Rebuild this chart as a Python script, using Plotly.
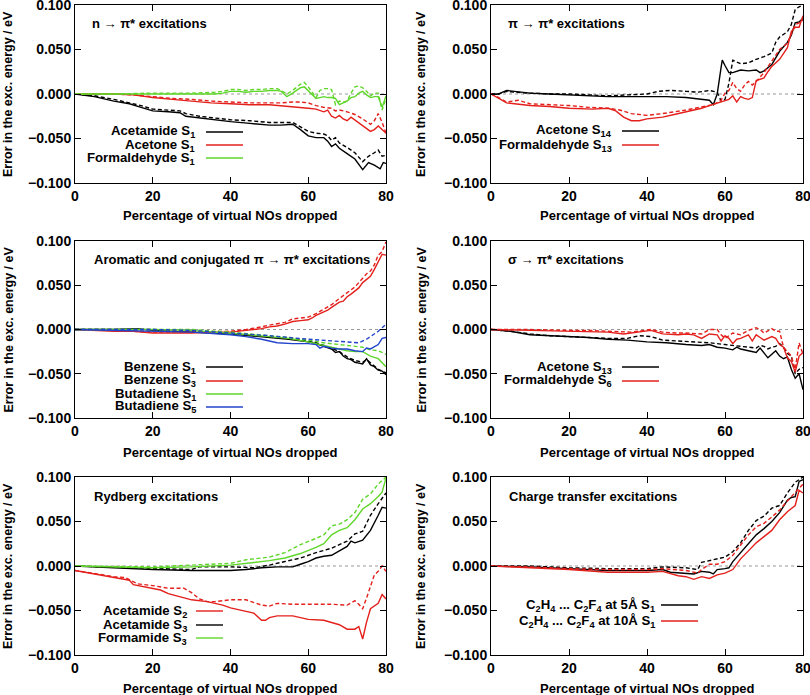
import plotly.graph_objects as go

# ---------------- DATA ----------------
x_ticks = [0, 20, 40, 60, 80]
y_ticks = [0.1, 0.05, 0.0, -0.05, -0.1]
y_tick_labels = ["0.100", "0.050", "0.000", "\u22120.050", "\u22120.100"]

# Panel 1: n -> pi*
p1_acetamide_x = [0, 5, 10, 14, 17, 20, 24, 27, 28.5, 32, 36, 40, 45, 50, 53, 56, 58, 60, 62, 64, 65, 66, 67, 68, 70, 72, 74, 75.5, 77, 78.5, 79.3, 80]
p1_acetamide_y = [0, -0.003, -0.008, -0.011, -0.015, -0.019, -0.020, -0.021, -0.025, -0.027, -0.029, -0.031, -0.033, -0.035, -0.035, -0.034, -0.040, -0.047, -0.049, -0.049, -0.053, -0.059, -0.056, -0.061, -0.067, -0.073, -0.085, -0.077, -0.080, -0.084, -0.077, -0.078]
p1_acetamide_dx = [0, 5, 10, 14, 17, 20, 24, 27, 28.5, 32, 36, 40, 45, 50, 53, 56, 58, 60, 62, 64, 65, 66, 67, 68, 70, 72, 74, 75.5, 77, 78, 79, 80]
p1_acetamide_dy = [0, -0.002, -0.006, -0.010, -0.013, -0.017, -0.018, -0.019, -0.022, -0.025, -0.027, -0.029, -0.030, -0.032, -0.032, -0.032, -0.037, -0.042, -0.044, -0.045, -0.047, -0.052, -0.049, -0.055, -0.060, -0.066, -0.076, -0.070, -0.066, -0.063, -0.070, -0.069]
p1_acetone_x = [0, 10, 15, 20, 25, 30, 35, 40, 45, 50, 53, 56, 58, 60, 62, 64, 65, 66, 67, 68, 69, 70, 71, 72, 73, 74, 75, 76, 77, 78, 79, 80]
p1_acetone_y = [0, 0, -0.001, -0.004, -0.006, -0.008, -0.010, -0.011, -0.012, -0.012, -0.013, -0.014, -0.015, -0.016, -0.017, -0.020, -0.018, -0.025, -0.027, -0.024, -0.028, -0.030, -0.026, -0.029, -0.032, -0.035, -0.038, -0.042, -0.040, -0.036, -0.040, -0.044]
p1_acetone_dx = [0, 10, 15, 20, 25, 30, 35, 40, 45, 50, 53, 56, 58, 60, 62, 64, 66, 67, 68, 70, 72, 74, 75, 76, 77, 78, 79, 80]
p1_acetone_dy = [0, 0, -0.001, -0.003, -0.005, -0.006, -0.008, -0.009, -0.010, -0.010, -0.010, -0.009, -0.009, -0.010, -0.013, -0.015, -0.016, -0.019, -0.018, -0.020, -0.023, -0.028, -0.031, -0.034, -0.030, -0.022, -0.032, -0.044]
p1_formald_x = [0, 10, 20, 30, 36, 38, 40, 42, 44, 46, 48, 50, 52, 53, 54.5, 56, 58, 59, 60, 61, 62, 63, 64, 65, 66, 67, 68, 69, 70, 71, 72, 73, 74, 75, 76, 77, 78, 79, 80]
p1_formald_y = [0, 0, 0, 0, 0, 0.001, 0.003, 0.003, 0.002, 0.003, 0.003, 0.004, 0.004, 0.003, -0.003, 0.001, 0.007, 0.008, 0.004, -0.001, -0.005, -0.004, -0.003, -0.004, -0.004, -0.005, -0.012, -0.010, -0.008, -0.004, -0.003, 0.001, 0.003, -0.001, -0.004, -0.003, -0.003, -0.015, -0.002]
p1_formald_dx = [0, 10, 20, 30, 36, 38, 40, 42, 44, 46, 48, 50, 52, 53, 54.5, 56, 58, 59, 60, 61, 62, 63, 64, 65, 66, 67, 68, 69, 70, 71, 72, 73, 74, 75, 76, 77, 78, 79, 80]
p1_formald_dy = [0, 0, 0.001, 0.001, 0.002, 0.003, 0.005, 0.005, 0.004, 0.005, 0.005, 0.006, 0.006, 0.004, 0.000, 0.004, 0.011, 0.013, 0.008, 0.002, -0.004, 0.004, 0.006, 0.006, 0.005, -0.012, -0.008, -0.009, -0.008, 0.001, 0.008, 0.009, 0.007, 0.003, -0.002, 0.001, 0.001, -0.018, -0.005]

# Panel 2: pi -> pi*
p2_acetone_x = [0, 2, 3, 4, 6, 10, 15, 20, 25, 30, 35, 40, 45, 50, 54, 56, 57, 58, 59, 59.3, 60, 61, 62, 64, 66, 68, 69, 70, 72, 73, 74, 76, 77, 78, 79, 80]
p2_acetone_y = [0, 0, 0.002, 0.004, 0.003, 0.001, 0.000, -0.001, -0.002, -0.003, -0.003, -0.003, -0.003, -0.004, -0.006, -0.007, -0.012, 0.000, 0.030, 0.038, 0.032, 0.024, 0.024, 0.027, 0.026, 0.027, 0.024, 0.026, 0.033, 0.040, 0.048, 0.058, 0.066, 0.080, 0.081, 0.085]
p2_acetone_dx = [0, 2, 4, 6, 10, 15, 20, 25, 30, 35, 40, 43, 46, 50, 53, 56, 58, 59, 60, 61, 62, 64, 66, 68, 70, 72, 73, 74, 76, 77, 78, 79, 80]
p2_acetone_dy = [0, 0, 0.003, 0.002, 0.001, 0.000, 0.000, -0.001, -0.002, -0.001, 0.000, 0.003, 0.004, 0.003, 0.002, 0.004, 0.002, -0.008, -0.006, 0.012, 0.038, 0.034, 0.035, 0.039, 0.042, 0.046, 0.058, 0.064, 0.070, 0.078, 0.095, 0.098, 0.100]
p2_formald_x = [0, 2, 4, 6, 10, 15, 20, 26, 30, 32, 34, 36, 38, 40, 44, 47, 50, 54, 56, 58, 60, 61, 62, 63, 64, 65, 66, 67, 68, 70, 71, 72, 74, 76, 77, 78, 79, 80]
p2_formald_y = [0, -0.005, -0.010, -0.011, -0.013, -0.014, -0.016, -0.017, -0.016, -0.019, -0.026, -0.030, -0.030, -0.028, -0.026, -0.023, -0.020, -0.016, -0.013, -0.010, -0.007, -0.006, -0.002, -0.009, -0.003, -0.005, -0.006, -0.004, 0.015, 0.018, 0.025, 0.031, 0.039, 0.052, 0.070, 0.075, 0.075, 0.088]
p2_formald_dx = [0, 2, 4, 7, 10, 15, 20, 25, 30, 33, 36, 40, 44, 50, 54, 57, 59, 60, 61, 62, 63, 64, 65, 66, 67, 68, 70, 72, 74, 76, 78, 79, 80]
p2_formald_dy = [0, -0.004, -0.009, -0.007, -0.011, -0.012, -0.013, -0.015, -0.016, -0.018, -0.022, -0.024, -0.022, -0.018, -0.015, -0.012, -0.007, 0.001, 0.004, 0.013, 0.006, 0.003, 0.010, 0.014, 0.010, 0.014, 0.024, 0.037, 0.050, 0.057, 0.078, 0.080, 0.083]

# Panel 3: aromatic / conjugated
p3_benz1_x = [0, 10, 16, 20, 30, 40, 45, 50, 55, 60, 62, 64, 66, 67, 68, 69, 70, 71, 72, 73, 74, 75, 76, 77, 78, 79, 80]
p3_benz1_y = [0, 0, 0.001, -0.001, -0.003, -0.005, -0.007, -0.009, -0.011, -0.014, -0.016, -0.019, -0.022, -0.026, -0.025, -0.030, -0.033, -0.034, -0.037, -0.038, -0.039, -0.033, -0.040, -0.042, -0.046, -0.047, -0.051]
p3_benz1_dx = [0, 10, 20, 30, 40, 45, 50, 55, 60, 62, 64, 66, 68, 70, 72, 74, 75, 76, 78, 80]
p3_benz1_dy = [0, 0, 0, -0.002, -0.004, -0.006, -0.008, -0.010, -0.013, -0.015, -0.018, -0.021, -0.025, -0.031, -0.035, -0.037, -0.034, -0.038, -0.045, -0.049]
p3_benz3_x = [0, 10, 15, 20, 25, 30, 35, 40, 44, 48, 50, 52, 54, 56, 58, 60, 61, 62, 64, 65, 66, 68, 69, 70, 71, 72, 73, 74, 75, 76, 77, 78, 79, 80]
p3_benz3_y = [0, -0.002, -0.002, -0.004, -0.004, -0.004, -0.003, -0.003, -0.001, 0.001, 0.003, 0.004, 0.006, 0.009, 0.010, 0.011, 0.013, 0.016, 0.020, 0.022, 0.025, 0.031, 0.032, 0.037, 0.040, 0.044, 0.047, 0.053, 0.056, 0.060, 0.068, 0.077, 0.085, 0.084]
p3_benz3_dx = [0, 10, 20, 30, 40, 44, 48, 50, 54, 56, 58, 60, 62, 64, 66, 68, 70, 72, 74, 75, 76, 77, 78, 79, 80]
p3_benz3_dy = [0, -0.001, -0.003, -0.003, -0.002, 0.000, 0.003, 0.005, 0.008, 0.012, 0.013, 0.014, 0.018, 0.023, 0.028, 0.035, 0.041, 0.048, 0.058, 0.063, 0.066, 0.073, 0.084, 0.088, 0.099]
p3_buta1_x = [0, 20, 30, 40, 45, 50, 55, 60, 64, 68, 70, 72, 74, 76, 78, 80]
p3_buta1_y = [0, 0, -0.001, -0.004, -0.006, -0.008, -0.010, -0.014, -0.018, -0.022, -0.024, -0.025, -0.025, -0.030, -0.033, -0.042]
p3_buta1_dx = [0, 20, 30, 40, 45, 50, 55, 60, 64, 68, 70, 72, 74, 76, 78, 80]
p3_buta1_dy = [0, 0, 0, -0.003, -0.005, -0.007, -0.009, -0.012, -0.015, -0.017, -0.018, -0.019, -0.020, -0.023, -0.024, -0.028]
p3_buta5_x = [0, 10, 20, 30, 40, 44, 48, 50, 52, 56, 60, 62, 63, 64, 66, 68, 70, 72, 74, 75, 76, 78, 79, 80]
p3_buta5_y = [0, -0.001, -0.002, -0.003, -0.006, -0.008, -0.011, -0.013, -0.015, -0.016, -0.016, -0.017, -0.021, -0.019, -0.021, -0.022, -0.022, -0.024, -0.025, -0.021, -0.022, -0.017, -0.010, -0.009]
p3_buta5_dx = [0, 20, 30, 40, 50, 60, 66, 70, 73, 75, 76, 77, 78, 79, 80]
p3_buta5_dy = [0, 0, -0.001, -0.004, -0.007, -0.011, -0.013, -0.014, -0.015, -0.011, -0.008, -0.006, -0.002, 0.002, 0.006]

# Panel 4: sigma -> pi*
p4_acetone_x = [0, 5, 10, 15, 20, 25, 30, 35, 40, 45, 50, 54, 56, 58, 60, 62, 63, 64, 66, 68, 69, 70, 71, 72, 73, 74, 75, 76, 77, 78, 79, 80]
p4_acetone_y = [0, -0.002, -0.006, -0.007, -0.008, -0.009, -0.011, -0.012, -0.014, -0.015, -0.017, -0.018, -0.017, -0.020, -0.021, -0.023, -0.020, -0.022, -0.024, -0.026, -0.021, -0.026, -0.032, -0.028, -0.024, -0.030, -0.033, -0.031, -0.045, -0.055, -0.050, -0.068]
p4_acetone_dx = [0, 5, 10, 15, 20, 25, 30, 35, 38, 41, 44, 48, 52, 56, 60, 64, 66, 68, 69, 70, 71, 72, 73, 74, 75, 76, 77, 78, 79, 80]
p4_acetone_dy = [0, -0.002, -0.005, -0.007, -0.008, -0.009, -0.010, -0.010, -0.007, -0.008, -0.012, -0.013, -0.014, -0.015, -0.017, -0.019, -0.020, -0.021, -0.018, -0.019, -0.022, -0.020, -0.019, -0.016, -0.020, -0.027, -0.030, -0.050, -0.045, -0.043]
p4_formald_x = [0, 10, 20, 25, 30, 34, 38, 41, 44, 48, 50, 52, 54, 56, 58, 59, 60, 61, 62, 63, 64, 66, 67, 68, 69, 70, 72, 73, 74, 75, 76, 77, 78, 79, 80]
p4_formald_y = [0, -0.001, -0.002, -0.003, -0.003, -0.005, -0.003, -0.001, -0.005, -0.006, -0.005, -0.006, -0.010, -0.005, -0.006, -0.013, -0.007, -0.010, -0.016, -0.011, -0.010, -0.006, -0.013, -0.006, -0.009, -0.012, -0.008, -0.010, -0.017, -0.020, -0.032, -0.036, -0.048, -0.030, -0.026]
p4_formald_dx = [0, 10, 20, 25, 30, 36, 41, 44, 48, 50, 54, 56, 58, 59, 60, 62, 64, 66, 68, 69, 70, 72, 73, 74, 75, 76, 77, 78, 79, 80]
p4_formald_dy = [0, 0, -0.001, -0.001, -0.002, -0.003, 0.000, -0.003, -0.004, -0.004, -0.005, 0.000, 0.000, -0.006, -0.010, -0.004, -0.006, -0.001, 0.002, 0.000, -0.004, 0.001, -0.002, -0.002, -0.020, -0.025, -0.030, -0.045, -0.015, -0.028]

# Panel 5: Rydberg
p5_acet2_x = [0, 5, 10, 13, 14, 15, 20, 22, 24, 28, 30, 34, 38, 40, 44, 46, 48, 49, 50, 52, 56, 58, 60, 64, 68, 70, 72, 73, 74, 75, 76, 78, 79, 80]
p5_acet2_y = [-0.005, -0.009, -0.013, -0.015, -0.016, -0.021, -0.025, -0.027, -0.031, -0.036, -0.038, -0.040, -0.044, -0.047, -0.051, -0.053, -0.061, -0.061, -0.058, -0.056, -0.056, -0.058, -0.060, -0.061, -0.066, -0.071, -0.071, -0.068, -0.082, -0.063, -0.048, -0.042, -0.032, -0.037]
p5_acet2_dx = [0, 10, 13, 16, 20, 24, 28, 30, 32, 34, 36, 40, 44, 48, 50, 52, 56, 60, 66, 70, 72, 73, 74, 75, 76, 77, 78, 79, 80]
p5_acet2_dy = [-0.005, -0.012, -0.013, -0.020, -0.022, -0.025, -0.025, -0.030, -0.037, -0.040, -0.040, -0.038, -0.038, -0.044, -0.045, -0.042, -0.043, -0.043, -0.043, -0.044, -0.039, -0.043, -0.048, -0.036, -0.022, -0.010, -0.006, 0.000, -0.006]
p5_acet3_x = [0, 10, 20, 30, 40, 44, 48, 52, 56, 58, 60, 62, 64, 66, 68, 70, 71, 72, 74, 76, 78, 79, 80]
p5_acet3_y = [0, -0.002, -0.004, -0.005, -0.005, -0.004, -0.002, -0.001, -0.001, 0.002, 0.005, 0.009, 0.011, 0.012, 0.017, 0.022, 0.028, 0.026, 0.029, 0.040, 0.057, 0.066, 0.065]
p5_acet3_dx = [0, 20, 30, 32, 40, 46, 50, 54, 58, 62, 66, 70, 72, 74, 76, 78, 80]
p5_acet3_dy = [0, -0.003, -0.004, -0.001, -0.001, -0.002, 0.001, 0.005, 0.009, 0.015, 0.020, 0.028, 0.036, 0.039, 0.057, 0.070, 0.082]
p5_form3_x = [0, 20, 30, 36, 40, 46, 50, 54, 58, 62, 64, 66, 68, 70, 72, 74, 76, 78, 79, 80]
p5_form3_y = [0, -0.002, -0.001, 0.000, 0.001, 0.004, 0.006, 0.009, 0.014, 0.021, 0.025, 0.035, 0.040, 0.043, 0.052, 0.064, 0.070, 0.078, 0.083, 0.099]
p5_form3_dx = [0, 20, 30, 40, 44, 50, 54, 58, 62, 64, 66, 68, 70, 72, 74, 76, 78, 80]
p5_form3_dy = [0, -0.001, 0.001, 0.003, 0.007, 0.010, 0.015, 0.024, 0.031, 0.035, 0.045, 0.047, 0.052, 0.060, 0.075, 0.081, 0.092, 0.100]

# Panel 6: charge transfer
p6_d5_x = [0, 10, 20, 30, 40, 44, 46, 50, 52, 54, 56, 57, 58, 60, 61, 62, 64, 66, 68, 70, 72, 74, 76, 77, 78, 79, 80]
p6_d5_y = [0, -0.001, -0.003, -0.005, -0.005, -0.004, -0.007, -0.008, -0.009, -0.006, -0.007, -0.009, -0.004, -0.003, -0.002, 0.005, 0.015, 0.026, 0.035, 0.042, 0.050, 0.060, 0.074, 0.077, 0.078, 0.095, 0.097]
p6_d5_dx = [0, 10, 20, 30, 40, 44, 50, 53, 54, 56, 58, 60, 62, 64, 66, 68, 70, 72, 74, 76, 78, 80]
p6_d5_dy = [0, 0, -0.002, -0.003, -0.003, -0.001, -0.002, -0.004, 0.004, 0.006, 0.008, 0.010, 0.016, 0.026, 0.040, 0.051, 0.056, 0.065, 0.068, 0.082, 0.094, 0.100]
p6_d10_x = [0, 10, 20, 30, 40, 44, 48, 50, 52, 54, 56, 58, 60, 62, 64, 66, 68, 70, 72, 74, 76, 78, 79, 80]
p6_d10_y = [0, -0.002, -0.004, -0.007, -0.007, -0.006, -0.011, -0.012, -0.015, -0.012, -0.014, -0.010, -0.008, -0.004, 0.008, 0.017, 0.026, 0.033, 0.040, 0.052, 0.061, 0.068, 0.085, 0.082]
p6_d10_dx = [0, 10, 20, 30, 40, 44, 50, 53, 54, 56, 58, 60, 62, 64, 66, 68, 70, 72, 74, 76, 78, 80]
p6_d10_dy = [0, -0.001, -0.003, -0.004, -0.004, -0.003, -0.005, -0.008, -0.004, 0.002, 0.002, 0.005, 0.012, 0.024, 0.035, 0.044, 0.048, 0.055, 0.063, 0.073, 0.083, 0.092]

# ---------------- STYLE ----------------
BLACK = "#000000"
RED = "#e3201c"
GREEN = "#5fd62a"
BLUE = "#2244cc"
FONT = "Liberation Sans, Arial, Helvetica, sans-serif"
W, H = 810, 695
TICK_SIZE = 14
LEG_SIZE = 13.2
TITLE_SIZE = 13
XT_SIZE = 13
YT_SIZE = 12.5

def px(x):
    return x / W

def py(y):
    return 1 - y / H

col_dom = [[px(75), px(386)], [px(491), px(803)]]
row_dom = [[py(183), py(5)], [py(418), py(241)], [py(655), py(477)]]

panels = [
    {
        "title": "n \u2192 \u03c0* excitations", "tx": 90, "ty": 24,
        "series": [
            ("Acetamide S<sub>1</sub>", BLACK, p1_acetamide_x, p1_acetamide_y, p1_acetamide_dx, p1_acetamide_dy),
            ("Acetone S<sub>1</sub>", RED, p1_acetone_x, p1_acetone_y, p1_acetone_dx, p1_acetone_dy),
            ("Formaldehyde S<sub>1</sub>", GREEN, p1_formald_x, p1_formald_y, p1_formald_dx, p1_formald_dy),
        ],
        "leg_text_x": 197, "leg_line": (206, 243), "leg_rows": [132, 145, 158],
    },
    {
        "title": "\u03c0 \u2192 \u03c0* excitations", "tx": 506, "ty": 24,
        "series": [
            ("Acetone S<sub>14</sub>", BLACK, p2_acetone_x, p2_acetone_y, p2_acetone_dx, p2_acetone_dy),
            ("Formaldehyde S<sub>13</sub>", RED, p2_formald_x, p2_formald_y, p2_formald_dx, p2_formald_dy),
        ],
        "leg_text_x": 614, "leg_line": (622, 659), "leg_rows": [131, 145],
    },
    {
        "title": "Aromatic and conjugated \u03c0 \u2192 \u03c0* excitations", "tx": 92, "ty": 259,
        "series": [
            ("Benzene S<sub>1</sub>", BLACK, p3_benz1_x, p3_benz1_y, p3_benz1_dx, p3_benz1_dy),
            ("Benzene S<sub>3</sub>", RED, p3_benz3_x, p3_benz3_y, p3_benz3_dx, p3_benz3_dy),
            ("Butadiene S<sub>1</sub>", GREEN, p3_buta1_x, p3_buta1_y, p3_buta1_dx, p3_buta1_dy),
            ("Butadiene S<sub>5</sub>", BLUE, p3_buta5_x, p3_buta5_y, p3_buta5_dx, p3_buta5_dy),
        ],
        "leg_text_x": 198, "leg_line": (206, 243), "leg_rows": [367, 381, 394, 407],
    },
    {
        "title": "\u03c3 \u2192 \u03c0* excitations", "tx": 506, "ty": 259,
        "series": [
            ("Acetone S<sub>13</sub>", BLACK, p4_acetone_x, p4_acetone_y, p4_acetone_dx, p4_acetone_dy),
            ("Formaldehyde S<sub>6</sub>", RED, p4_formald_x, p4_formald_y, p4_formald_dx, p4_formald_dy),
        ],
        "leg_text_x": 614, "leg_line": (622, 659), "leg_rows": [367, 381],
    },
    {
        "title": "Rydberg excitations", "tx": 92, "ty": 496,
        "series": [
            ("Acetamide S<sub>2</sub>", RED, p5_acet2_x, p5_acet2_y, p5_acet2_dx, p5_acet2_dy),
            ("Acetamide S<sub>3</sub>", BLACK, p5_acet3_x, p5_acet3_y, p5_acet3_dx, p5_acet3_dy),
            ("Formamide S<sub>3</sub>", GREEN, p5_form3_x, p5_form3_y, p5_form3_dx, p5_form3_dy),
        ],
        "leg_text_x": 189, "leg_line": (196, 223), "leg_rows": [611, 625, 638],
    },
    {
        "title": "Charge transfer excitations", "tx": 507, "ty": 496,
        "series": [
            ("C<sub>2</sub>H<sub>4</sub> ... C<sub>2</sub>F<sub>4</sub> at 5\u00c5 S<sub>1</sub>", BLACK, p6_d5_x, p6_d5_y, p6_d5_dx, p6_d5_dy),
            ("C<sub>2</sub>H<sub>4</sub> ... C<sub>2</sub>F<sub>4</sub> at 10\u00c5 S<sub>1</sub>", RED, p6_d10_x, p6_d10_y, p6_d10_dx, p6_d10_dy),
        ],
        "leg_text_x": 657, "leg_line": (661, 698), "leg_rows": [605, 621],
    },
]

fig = go.Figure()
layout = dict(
    width=W, height=H, margin=dict(l=0, r=0, t=0, b=0),
    paper_bgcolor="white", plot_bgcolor="white", showlegend=False,
    font=dict(family=FONT, color="black"),
)
annotations = []
shapes = []

for i, p in enumerate(panels):
    n = i + 1
    r, c = i // 2, i % 2
    xa = "x" if n == 1 else f"x{n}"
    ya = "y" if n == 1 else f"y{n}"
    xkey = "xaxis" if n == 1 else f"xaxis{n}"
    ykey = "yaxis" if n == 1 else f"yaxis{n}"
    layout[xkey] = dict(
        domain=col_dom[c], anchor=ya, range=[0, 80], tickvals=x_ticks,
        ticks="inside", ticklen=6, tickwidth=1, tickcolor="black",
        showline=True, linecolor="black", linewidth=1, mirror="ticks",
        showgrid=False, zeroline=False, automargin=False, ticklabeloverflow="allow",
        tickfont=dict(family=FONT, size=TICK_SIZE, color="black", weight="bold"),
    )
    layout[ykey] = dict(
        domain=row_dom[r], anchor=xa, range=[-0.1, 0.1], tickvals=y_ticks,
        ticktext=y_tick_labels,
        ticks="inside", ticklen=6, tickwidth=1, tickcolor="black",
        showline=True, linecolor="black", linewidth=1, mirror="ticks",
        showgrid=False, zeroline=False, automargin=False, ticklabeloverflow="allow",
        tickfont=dict(family=FONT, size=TICK_SIZE, color="black", weight="bold"),
    )
    # dotted zero reference line
    shapes.append(dict(type="line", xref=f"{xa} domain", yref=ya, x0=0, x1=1, y0=0, y1=0,
                       line=dict(color="#999999", width=1, dash="dot"), layer="below"))
    for (label, color, sx, sy, dx, dy) in p["series"]:
        fig.add_trace(go.Scatter(x=dx, y=dy, mode="lines", xaxis=xa, yaxis=ya,
                                 line=dict(color=color, width=1.4, dash="4px,2.5px"),
                                 hoverinfo="skip"))
        fig.add_trace(go.Scatter(x=sx, y=sy, mode="lines", xaxis=xa, yaxis=ya,
                                 line=dict(color=color, width=1.4), name=label))
    # panel title
    annotations.append(dict(text=f"<b>{p['title']}</b>", x=px(p["tx"]), y=py(p["ty"]),
                            xref="paper", yref="paper", xanchor="left", yanchor="middle",
                            showarrow=False, font=dict(size=TITLE_SIZE, family=FONT)))
    # legend (gnuplot style: right-aligned text, sample line to the right)
    for (label, color, *_), ry in zip(p["series"], p["leg_rows"]):
        annotations.append(dict(text=f"<b>{label}</b>", x=px(p["leg_text_x"]), y=py(ry),
                                xref="paper", yref="paper", xanchor="right", yanchor="middle",
                                showarrow=False, font=dict(size=LEG_SIZE, family=FONT)))
        x0, x1 = p["leg_line"]
        shapes.append(dict(type="line", xref="paper", yref="paper", x0=px(x0), x1=px(x1),
                           y0=py(ry), y1=py(ry), line=dict(color=color, width=1.4)))
    # axis titles
    xc = (col_dom[c][0] + col_dom[c][1]) / 2
    yc = (row_dom[r][0] + row_dom[r][1]) / 2
    x_title_y = [216, 452, 688][r]
    annotations.append(dict(text="<b>Percentage of virtual NOs dropped</b>", x=xc, y=py(x_title_y),
                            xref="paper", yref="paper", xanchor="center", yanchor="middle",
                            showarrow=False, font=dict(size=XT_SIZE, family=FONT)))
    annotations.append(dict(text="<b>Error in the exc. energy / eV</b>", x=px([8, 421][c]), y=yc,
                            xref="paper", yref="paper", xanchor="center", yanchor="middle",
                            textangle=-90, showarrow=False, font=dict(size=YT_SIZE, family=FONT)))

layout["annotations"] = annotations
layout["shapes"] = shapes
fig.update_layout(**layout)
fig.write_html("out.html", config={"displayModeBar": False},
               post_script="document.body.style.margin='0';")
